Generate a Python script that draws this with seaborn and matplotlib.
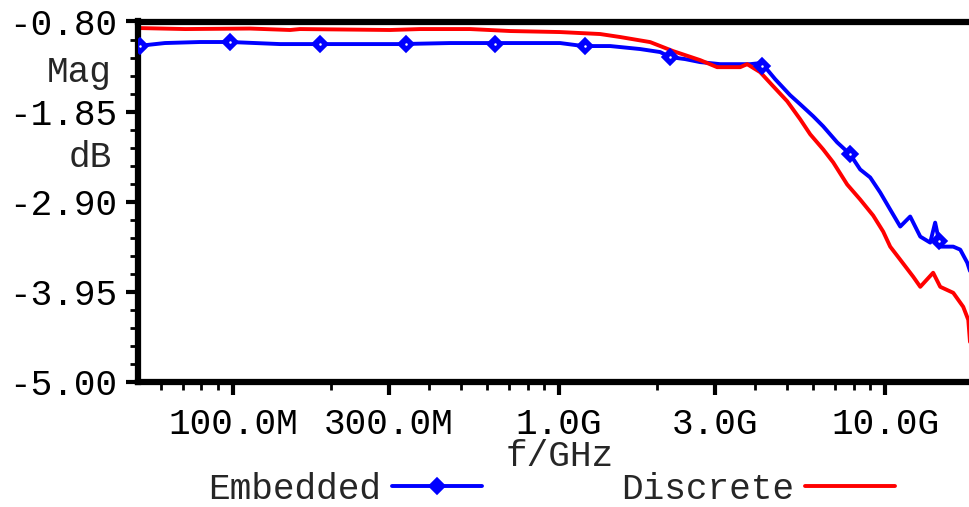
import matplotlib
matplotlib.use("Agg")
import matplotlib.pyplot as plt
from matplotlib.lines import Line2D
from matplotlib.ticker import FixedLocator, NullFormatter
import numpy as np
import pandas as pd
import seaborn as sns

# Traces (frequency in GHz, magnitude in dB)
embedded_freq = [0.0508, 0.0618, 0.0792, 0.0981, 0.1394, 0.1849, 0.3253, 0.4629,
                 1.007, 1.185, 1.434, 1.772, 2.041, 2.190, 2.435, 2.707, 3.118,
                 3.854, 4.135, 4.284, 4.598, 5.112, 5.486, 6.015, 6.453, 7.123,
                 7.808, 8.381, 8.995, 9.654, 10.36, 11.12, 11.93, 12.81, 13.74,
                 14.23, 14.75, 16.17, 16.99, 17.85, 18.23]
embedded_db = [-1.086, -1.051, -1.039, -1.039, -1.063, -1.063, -1.063, -1.051,
               -1.051, -1.086, -1.086, -1.121, -1.156, -1.215, -1.238, -1.273,
               -1.297, -1.297, -1.285, -1.332, -1.472, -1.659, -1.764, -1.904,
               -2.021, -2.208, -2.348, -2.524, -2.617, -2.792, -2.991, -3.189,
               -3.072, -3.306, -3.376, -3.143, -3.423, -3.423, -3.458, -3.610,
               -3.715]

embedded_marker_freq = [0.0518, 0.0981, 0.1849, 0.3394, 0.6364, 1.202, 2.190,
                        4.194, 7.808, 14.65]
embedded_marker_db = [-1.086, -1.039, -1.063, -1.063, -1.063, -1.086, -1.215,
                      -1.320, -2.348, -3.353]

discrete_freq = [0.0508, 0.0713, 0.1127, 0.1496, 0.1605, 0.3031, 0.3747, 0.5333,
                 0.7075, 1.007, 1.336, 1.539, 1.902, 2.237, 2.707, 3.052, 3.591,
                 3.773, 4.135, 4.533, 5.005, 5.486, 5.888, 6.453, 6.926, 7.645,
                 8.381, 9.188, 9.860, 10.36, 11.12, 12.19, 12.81, 14.03, 14.75,
                 16.17, 17.35, 17.98, 18.23]
discrete_db = [-0.876, -0.888, -0.882, -0.899, -0.888, -0.899, -0.888, -0.888,
               -0.911, -0.923, -0.946, -0.981, -1.040, -1.145, -1.250, -1.332,
               -1.332, -1.297, -1.390, -1.554, -1.729, -1.939, -2.114, -2.290,
               -2.441, -2.699, -2.874, -3.061, -3.248, -3.423, -3.575, -3.774,
               -3.891, -3.727, -3.891, -3.961, -4.124, -4.276, -4.568]

x_tick_values = [0.1, 0.3, 1.0, 3.0, 10.0]
x_tick_labels = ["100.0M", "300.0M", "1.0G", "3.0G", "10.0G"]
y_tick_values = [-5.00, -3.95, -2.90, -1.85, -0.80]
y_tick_labels = ["-5.00", "-3.95", "-2.90", "-1.85", "-0.80"]

sns.set_theme(style="white")
plt.rcParams["font.family"] = ["Liberation Mono", "DejaVu Sans Mono"]
FS = 26
plt.rcParams["font.size"] = FS

df = pd.concat([
    pd.DataFrame({"f": embedded_freq, "dB": embedded_db, "Trace": "Embedded"}),
    pd.DataFrame({"f": discrete_freq, "dB": discrete_db, "Trace": "Discrete"}),
], ignore_index=True)

palette = {"Embedded": "#0000FF", "Discrete": "#FF0000"}
LW = 2.8

W, H = 970, 507
fig = plt.figure(figsize=(W / 100, H / 100), dpi=100)
ax = fig.add_axes([138 / W, (H - 382) / H, (W - 138) / W, (382 - 21.5) / H])

sns.lineplot(data=df, x="f", y="dB", hue="Trace", hue_order=["Embedded", "Discrete"],
             palette=palette, estimator=None, sort=False, linewidth=LW,
             legend=False, ax=ax)
ax.plot(embedded_marker_freq, embedded_marker_db, ls="none", marker="D", ms=8.5,
        color="#0000FF", mew=1.2, zorder=3)
ax.plot(embedded_marker_freq, embedded_marker_db, ls="none", marker="o", ms=1.8,
        color="white", mew=0, zorder=4)

ax.set_xscale("log")
ax.set_xlim(0.0511, 18.2)
ax.set_ylim(-5.00, -0.80)

ax.xaxis.set_major_locator(FixedLocator(x_tick_values))
ax.set_xticklabels(x_tick_labels)
minor_x = [m * 10.0 ** e for e in (-2, -1, 0, 1) for m in (2, 4, 5, 6, 7, 8, 9)]
ax.xaxis.set_minor_locator(FixedLocator(minor_x))
ax.xaxis.set_minor_formatter(NullFormatter())

ax.yaxis.set_major_locator(FixedLocator(y_tick_values))
ax.set_yticklabels(y_tick_labels)
ax.yaxis.set_minor_locator(FixedLocator(np.arange(-5.00, -0.79, 0.21)))

ax.tick_params(axis="both", which="major", direction="out", length=9, width=3,
               color="black", labelcolor="black", labelsize=FS)
ax.tick_params(axis="both", which="minor", direction="out", length=5.5, width=2,
               color="black")
ax.tick_params(axis="x", which="major", pad=9)
ax.tick_params(axis="y", which="major", pad=6)
ax.tick_params(bottom=True, left=True, which="both")

for side in ("top", "left", "bottom"):
    ax.spines[side].set_visible(True)
    ax.spines[side].set_linewidth(4.5)
    ax.spines[side].set_color("black")
ax.spines["right"].set_visible(False)
ax.set_xlabel("")
ax.set_ylabel("")
ax.grid(False)

fig.text(112 / W, 1 - 82 / H, "Mag", ha="right", va="baseline", fontsize=FS)
fig.text(112 / W, 1 - 167 / H, "dB", ha="right", va="baseline", fontsize=FS)
fig.text(560 / W, 1 - 466 / H, "f/GHz", ha="center", va="baseline", fontsize=FS)

handles = [
    Line2D([], [], color="#0000FF", lw=LW, marker="D", ms=8.5, mew=1.2),
    Line2D([], [], color="#FF0000", lw=LW),
]
leg = ax.legend(handles, ["Embedded", "Discrete"], loc="lower left",
                bbox_to_anchor=(208 / W, 0.0), bbox_transform=fig.transFigure,
                ncol=2, markerfirst=False, frameon=False, fontsize=FS,
                handlelength=2.5, handletextpad=0.3, columnspacing=3.85,
                borderpad=0, borderaxespad=0, numpoints=1)

fig.savefig("out.png", dpi=100, facecolor="white")
